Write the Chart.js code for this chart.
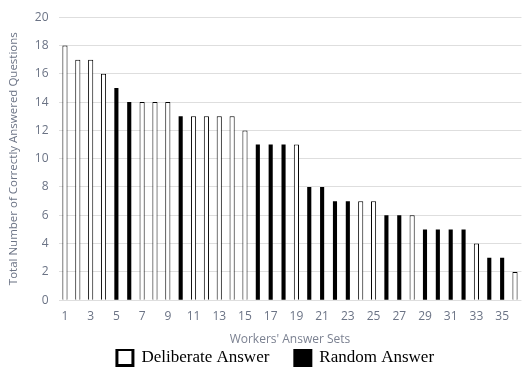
<!DOCTYPE html>
<html>
<head>
<meta charset="utf-8">
<script src="https://cdn.jsdelivr.net/npm/chart.js@4/dist/chart.umd.min.js"></script>
<style>
  body { margin: 0; background: #fff; }
  #wrap { width: 524px; height: 367px; }
</style>
</head>
<body>
<div id="wrap"><canvas id="answersChart"></canvas></div>
<script>
// answer sets 1..36, value and kind (D = deliberate, R = random)
var answerSets = [];
for (var i = 1; i <= 36; i++) answerSets.push(String(i));
var correctCounts = [18, 17, 17, 16, 15, 14, 14, 14, 14, 13, 13, 13, 13, 13, 12, 11, 11, 11, 11, 8, 8, 7, 7, 7, 7, 6, 6, 6, 5, 5, 5, 5, 4, 3, 3, 2];
var answerKinds = ['D','D','D','D','R','R','D','D','D','R','D','D','D','D','D','R','R','R','D','R','R','R','R','D','D','R','R','D','R','R','R','R','D','R','R','D'];
var yTicks = [0, 2, 4, 6, 8, 10, 12, 14, 16, 18, 20];

var deliberate = correctCounts.map(function (v, i) { return answerKinds[i] === 'D' ? v : null; });
var random = correctCounts.map(function (v, i) { return answerKinds[i] === 'R' ? v : null; });

var ctx = document.getElementById('answersChart').getContext('2d');
var tickColor = '#6b7385';

// the legend sits a little right of the canvas centre in the original
var legendShift = {
    id: 'legendShift',
    afterLayout: function (chart) {
        chart.legend.left += 10;
        chart.legend.right += 10;
    }
};

new Chart(ctx, {
    type: 'bar',
    data: {
        labels: answerSets,
        datasets: [{
            label: 'Deliberate Answer',
            data: deliberate,
            backgroundColor: '#ffffff',
            borderColor: '#000000',
            borderWidth: 1,
            grouped: false,
            barPercentage: 0.4,
            categoryPercentage: 1
        }, {
            label: 'Random Answer',
            data: random,
            backgroundColor: '#000000',
            borderColor: '#000000',
            borderWidth: 0,
            grouped: false,
            barPercentage: 0.32,
            categoryPercentage: 1
        }]
    },
    plugins: [legendShift],
    options: {
        responsive: true,
        maintainAspectRatio: false,
        animation: false,
        layout: { autoPadding: false, padding: { top: 14, right: 0, left: 7, bottom: -9 } },
        scales: {
            x: {
                grid: { display: false, drawTicks: false },
                border: { display: false },
                ticks: {
                    autoSkip: false,
                    maxRotation: 0,
                    color: tickColor,
                    font: { family: 'Open Sans', size: 12 },
                    padding: 9,
                    callback: function (val, idx) { return idx % 2 === 0 ? answerSets[idx] : ''; }
                },
                title: {
                    display: true,
                    text: "Workers' Answer Sets",
                    color: '#7b8191',
                    font: { family: 'Open Sans', size: 12 },
                    padding: { top: 0, bottom: 2 }
                }
            },
            y: {
                min: 0,
                max: 20,
                afterBuildTicks: function (axis) {
                    axis.ticks = yTicks.map(function (v) { return { value: v }; });
                },
                grid: { color: '#dedede', lineWidth: 1, drawTicks: false },
                border: { display: false },
                ticks: {
                    color: tickColor,
                    font: { family: 'Open Sans', size: 12 },
                    padding: 10
                },
                title: {
                    display: true,
                    text: 'Total Number of Correctly Answered Questions',
                    color: '#6b7385',
                    font: { family: 'Open Sans', size: 11.5 },
                    padding: { top: 0, bottom: 4 }
                }
            }
        },
        plugins: {
            legend: {
                position: 'bottom',
                labels: {
                    color: '#000000',
                    font: { family: 'Liberation Serif', size: 17 },
                    boxWidth: 16,
                    boxHeight: 16,
                    padding: 0,
                    generateLabels: function (chart) {
                        return chart.data.datasets.map(function (ds, i) {
                            // trailing spaces on the first item give the gap between entries
                            return {
                                text: i === 0 ? ds.label + '      ' : ds.label,
                                fillStyle: ds.backgroundColor,
                                strokeStyle: '#000000',
                                lineWidth: 3,
                                datasetIndex: i,
                                fontColor: '#000000'
                            };
                        });
                    }
                }
            },
            tooltip: { enabled: false }
        }
    }
});
</script>
</body>
</html>
